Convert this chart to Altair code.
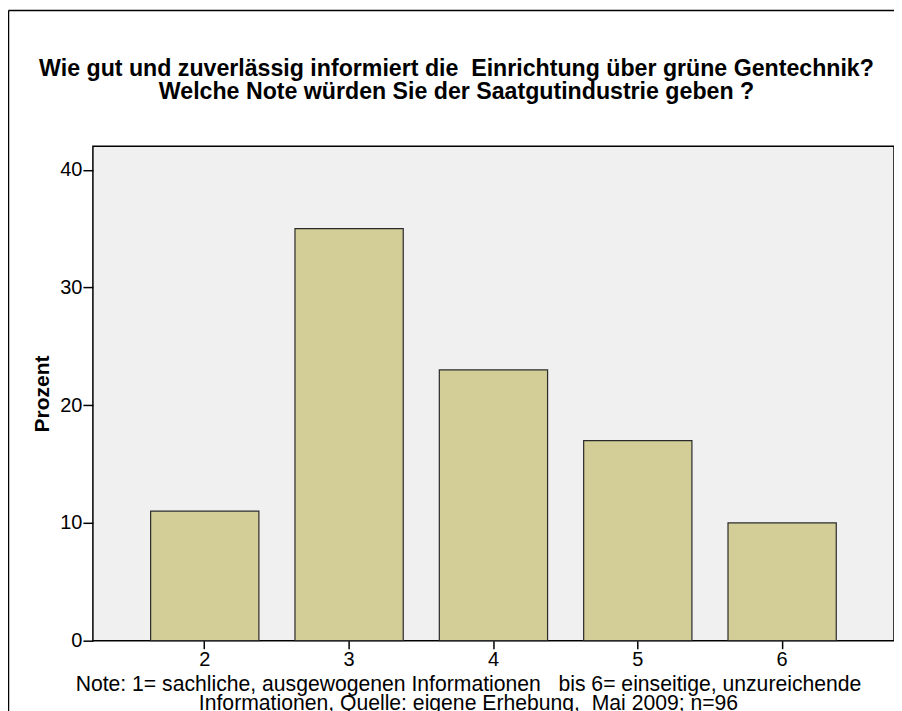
import altair as alt
import pandas as pd

categories = ["2", "3", "4", "5", "6"]
values = [11, 35, 23, 17, 10]
y_ticks = [0, 10, 20, 30, 40]

title_lines = [
    "Wie gut und zuverlässig informiert die\u00a0 Einrichtung über grüne Gentechnik?",
    "Welche Note würden Sie der Saatgutindustrie geben ?",
]
note_lines = [
    "Note: 1= sachliche, ausgewogenen Informationen\u00a0\u00a0 bis 6= einseitige, unzureichende",
    "Informationen, Quelle: eigene Erhebung,\u00a0 Mai 2009; n=96",
]

df = pd.DataFrame({"Note": categories, "Prozent": values})
one = pd.DataFrame({"k": [0]})
FONT = "Liberation Sans"

bars = alt.Chart(df).mark_bar(
    color="#D3CE97", stroke="#2b2b2b", strokeWidth=1.2
).encode(
    x=alt.X(
        "Note:N",
        sort=categories,
        scale=alt.Scale(paddingInner=0.25, paddingOuter=0.4),
        axis=alt.Axis(
            title=None,
            labelAngle=0,
            labelFont=FONT,
            labelFontSize=20,
            labelColor="#000000",
            labelPadding=1,
            tickSize=8,
            tickColor="#000000",
            tickWidth=1.5,
            domain=False,
        ),
    ),
    y=alt.Y(
        "Prozent:Q",
        scale=alt.Scale(domain=[0, 42], nice=False),
        axis=alt.Axis(
            values=y_ticks,
            title="Prozent",
            titleFont=FONT,
            titleFontSize=21,
            titleFontWeight="bold",
            titleColor="#000000",
            titlePadding=7,
            labelFont=FONT,
            labelFontSize=20,
            labelColor="#000000",
            labelPadding=1,
            tickSize=10,
            tickColor="#000000",
            tickWidth=1.5,
            grid=False,
            domain=False,
        ),
    ),
)


def text_line(txt, x, y, size, weight="normal"):
    return alt.Chart(one).mark_text(
        font=FONT, fontSize=size, fontWeight=weight, color="#000000",
        align="center", baseline="alphabetic",
    ).encode(x=alt.value(x), y=alt.value(y), text=alt.value(txt))


title_l1 = text_line(title_lines[0], 364, -70, 23.2, "bold")
title_l2 = text_line(title_lines[1], 364, -47, 23.2, "bold")
note_l1 = text_line(note_lines[0], 376, 545, 21.2)
note_l2 = text_line(note_lines[1], 376, 564, 21.2)

frame_left = alt.Chart(one).mark_rule(color="#000000", strokeWidth=1.5).encode(
    x=alt.value(-84.5), y=alt.value(-136), y2=alt.value(700)
)
frame_top = alt.Chart(one).mark_rule(color="#000000", strokeWidth=1.5).encode(
    x=alt.value(-84.5), x2=alt.value(900), y=alt.value(-136)
)

chart = alt.layer(
    bars, title_l1, title_l2, note_l1, note_l2, frame_left, frame_top
).properties(
    width=802,
    height=495,
    autosize=alt.AutoSizeParams(type="none"),
    padding={"left": 85, "top": 138, "right": 0, "bottom": 70},
).configure_view(
    fill="#F0F0F0", stroke="#000000", strokeWidth=1.5
)

chart.save("out.html", embed_options={"renderer": "svg", "actions": False})
